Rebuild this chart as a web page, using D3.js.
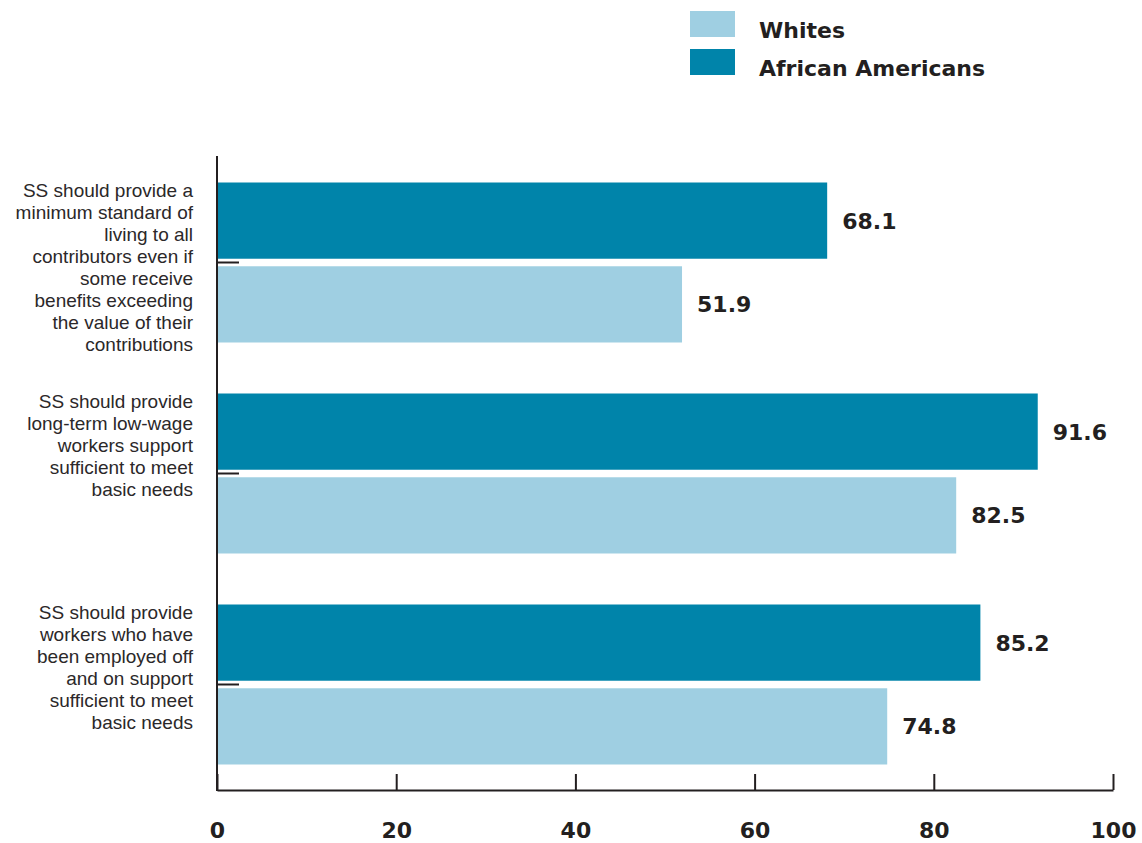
<!DOCTYPE html>
<html><head><meta charset="utf-8">
<script src="https://cdn.jsdelivr.net/npm/d3@7"></script>
<style>body{margin:0;background:#fff}svg{display:block}</style>
</head><body>
<script>
const categories = [
  ["SS should provide a","minimum standard of","living to all","contributors even if","some receive","benefits exceeding","the value of their","contributions"],
  ["SS should provide","long-term low-wage","workers support","sufficient to meet","basic needs"],
  ["SS should provide","workers who have","been employed off","and on support","sufficient to meet","basic needs"]
];
const seriesNames = ["African Americans","Whites"];
const africanAmericans = [68.1, 91.6, 85.2];
const whites = [51.9, 82.5, 74.8];
const xTicks = [0,20,40,60,80,100];
const colors = {"Whites":"#9fcfe2","African Americans":"#0084aa"};
const ink = "#231f20";

const W=1142,H=843;
const svg=d3.select("body").append("svg").attr("width",W).attr("height",H);
const x=d3.scaleLinear().domain([0,100]).range([217,1113]);
const ids=categories.map((c,i)=>i);
const y=d3.scaleBand().domain(ids).range([157,790]).padding(0);
const y1=d3.scaleBand().domain(seriesNames).range([25.5,185.5]).paddingInner(0.09);
const data=ids.map(i=>({i,vals:{"African Americans":africanAmericans[i],"Whites":whites[i]}}));

const g=svg.append("g");
data.forEach(d=>{
  seriesNames.forEach(s=>{
    const v=d.vals[s];
    const yy=y(d.i)+y1(s);
    g.append("rect").attr("x",x(0)).attr("y",yy).attr("width",x(v)-x(0)).attr("height",y1.bandwidth()).attr("fill",colors[s]);
    g.append("text").attr("x",x(v)+15).attr("y",yy+y1.bandwidth()/2).attr("dy","0.36em")
      .attr("font-family","DejaVu Sans").attr("font-weight","bold").attr("font-size",22).attr("fill",ink).text(v.toFixed(1));
  });
  const t=svg.append("text").attr("text-anchor","end").attr("font-family","Liberation Sans").attr("font-size",19).attr("fill","#2b2829");
  const top=y(d.i)+y1(seriesNames[0]);
  categories[d.i].forEach((ln,k)=>{
    t.append("tspan").attr("x",193).attr("y",top+14+k*22).text(ln);
  });
});

const yAxis=d3.axisLeft(y).tickSize(-22).tickFormat("");
const ga=svg.append("g").attr("transform",`translate(${x(0)},0)`).call(yAxis);
ga.select(".domain").remove();
ga.selectAll(".tick line").attr("stroke",ink).attr("stroke-width",2);
svg.append("line").attr("x1",x(0)).attr("x2",x(0)).attr("y1",156).attr("y2",791).attr("stroke",ink).attr("stroke-width",2);

const xAxis=d3.axisBottom(x).tickValues(xTicks).tickSizeInner(-16).tickSizeOuter(0).tickPadding(32);
const gx=svg.append("g").attr("transform","translate(0,790)").call(xAxis);
gx.select(".domain").attr("stroke",ink).attr("stroke-width",2);
gx.selectAll(".tick line").attr("stroke",ink).attr("stroke-width",2);
gx.selectAll(".tick text").attr("font-family","DejaVu Sans").attr("font-weight","bold").attr("font-size",22).attr("fill",ink);

const legendOrder=["Whites","African Americans"];
legendOrder.forEach((s,k)=>{
  const ly=11+k*38;
  svg.append("rect").attr("x",690).attr("y",ly).attr("width",45).attr("height",26).attr("fill",colors[s]);
  svg.append("text").attr("x",759).attr("y",ly+19).attr("dy","0.36em").attr("font-family","DejaVu Sans").attr("font-weight","bold").attr("font-size",22).attr("fill",ink).text(s);
});
</script>
</body></html>
